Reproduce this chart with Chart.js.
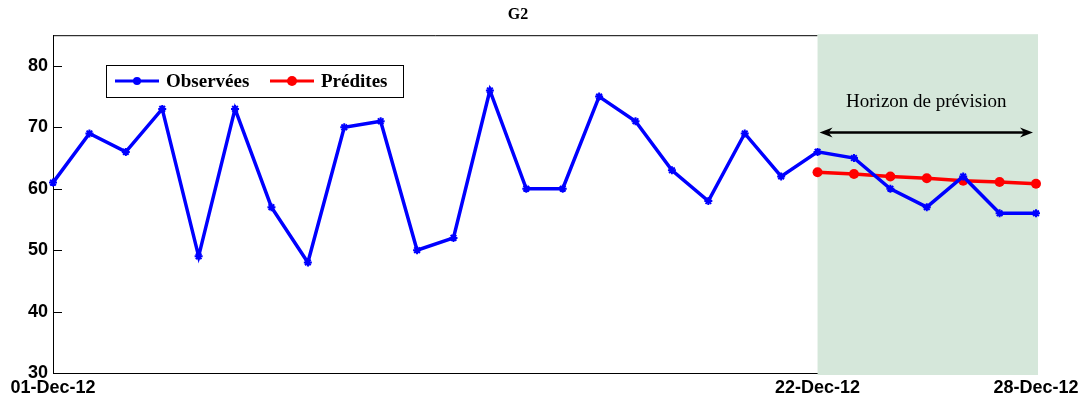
<!DOCTYPE html>
<html>
<head>
<meta charset="utf-8">
<script src="https://cdn.jsdelivr.net/npm/chart.js@4.4.1/dist/chart.umd.min.js"></script>
<style>
  html, body { margin: 0; padding: 0; background: #fff; }
  #wrap { width: 1086px; height: 400px; }
</style>
</head>
<body>
<div id="wrap"><canvas id="g2" width="1086" height="400"></canvas></div>
<script>
const jours = ['01-Dec-12','02-Dec-12','03-Dec-12','04-Dec-12','05-Dec-12','06-Dec-12','07-Dec-12',
  '08-Dec-12','09-Dec-12','10-Dec-12','11-Dec-12','12-Dec-12','13-Dec-12','14-Dec-12',
  '15-Dec-12','16-Dec-12','17-Dec-12','18-Dec-12','19-Dec-12','20-Dec-12','21-Dec-12',
  '22-Dec-12','23-Dec-12','24-Dec-12','25-Dec-12','26-Dec-12','27-Dec-12','28-Dec-12'];
const observees = [61, 69, 66, 73, 49, 73, 57, 48, 70, 71, 50, 52, 76, 60, 60, 75, 71, 63, 58, 69, 62,
  66, 65, 60, 57, 62, 56, 56];
const predites = [null, null, null, null, null, null, null, null, null, null, null, null, null, null,
  null, null, null, null, null, null, null,
  62.7, 62.4, 62.0, 61.7, 61.3, 61.1, 60.8];
const joursAffiches = ['01-Dec-12', '22-Dec-12', '28-Dec-12'];
const debutHorizon = '22-Dec-12';
const finHorizon = '28-Dec-12';

// fond vert, cadre, graduations internes, fleche et legende
const decor = {
  id: 'decor',
  beforeDatasetsDraw(chart) {
    const { ctx, chartArea: a, scales: { x, y } } = chart;
    const x0 = x.getPixelForValue(jours.indexOf(debutHorizon));
    ctx.save();
    // graduations vers l'interieur
    ctx.strokeStyle = '#000';
    ctx.lineWidth = 1;
    y.ticks.forEach(t => {
      if (t.value % 10) return;
      const py = Math.round(y.getPixelForValue(t.value)) + 0.5;
      ctx.beginPath(); ctx.moveTo(a.left, py); ctx.lineTo(a.left + 9, py); ctx.stroke();
    });
    // bord haut
    ctx.beginPath(); ctx.moveTo(a.left, a.top + 0.5); ctx.lineTo(x0, a.top + 0.5); ctx.stroke();
    // zone de prevision
    ctx.fillStyle = '#d5e7da';
    ctx.fillRect(x0, a.top - 1, a.right + 2 - x0, a.bottom - a.top + 3);
    ctx.restore();
  },
  afterDatasetsDraw(chart) {
    const { ctx, scales: { x, y } } = chart;
    const xa = x.getPixelForValue(jours.indexOf(debutHorizon)) + 2;
    const xb = x.getPixelForValue(jours.indexOf(finHorizon)) - 3;
    const ya = Math.round(y.getPixelForValue(69.3)) + 0.5;
    ctx.save();
    ctx.strokeStyle = '#000';
    ctx.fillStyle = '#000';
    ctx.lineWidth = 2.5;
    ctx.beginPath(); ctx.moveTo(xa + 6, ya); ctx.lineTo(xb - 6, ya); ctx.stroke();
    [[xa, 1], [xb, -1]].forEach(([px, d]) => {
      ctx.beginPath();
      ctx.moveTo(px, ya);
      ctx.lineTo(px + d * 13, ya - 5);
      ctx.lineTo(px + d * 9, ya);
      ctx.lineTo(px + d * 13, ya + 5);
      ctx.closePath();
      ctx.fill();
    });
    ctx.font = '19px "Liberation Serif", "Times New Roman", serif';
    ctx.textAlign = 'center';
    ctx.textBaseline = 'middle';
    ctx.fillText('Horizon de prévision', (xa + xb) / 2, y.getPixelForValue(74.1));

    // legende dans le cadre
    const lx = 106, ly = 65, lw = 297, lh = 32;
    ctx.fillStyle = '#fff';
    ctx.fillRect(lx, ly, lw, lh);
    ctx.lineWidth = 1;
    ctx.strokeRect(lx + 0.5, ly + 0.5, lw, lh);
    const cy = ly + 16;
    const items = [
      { ds: chart.data.datasets[0], x: 115, tx: 166 },
      { ds: chart.data.datasets[1], x: 270, tx: 321 }
    ];
    items.forEach(it => {
      ctx.strokeStyle = it.ds.borderColor;
      ctx.fillStyle = it.ds.borderColor;
      ctx.lineWidth = 3;
      ctx.beginPath(); ctx.moveTo(it.x, cy); ctx.lineTo(it.x + 44, cy); ctx.stroke();
      ctx.beginPath(); ctx.arc(it.x + 22, cy, it.ds.pointRadius, 0, Math.PI * 2); ctx.fill();
      ctx.fillStyle = '#000';
      ctx.font = 'bold 19px "Liberation Serif", "Times New Roman", serif';
      ctx.textAlign = 'left';
      ctx.fillText(it.ds.label, it.tx, cy + 1);
    });
    ctx.restore();
  }
};

new Chart(document.getElementById('g2'), {
  type: 'line',
  data: {
    labels: jours,
    datasets: [
      {
        label: 'Observées', data: observees,
        borderColor: '#0000ff', backgroundColor: '#0000ff',
        borderWidth: 3.5, pointStyle: 'star', pointRadius: 4, pointBorderWidth: 2,
        pointBorderColor: '#0000ff', tension: 0
      },
      {
        label: 'Prédites', data: predites,
        borderColor: '#ff0000', backgroundColor: '#ff0000',
        borderWidth: 3.5, pointRadius: 5, pointBorderWidth: 0, tension: 0
      }
    ]
  },
  options: {
    responsive: false,
    animation: false,
    layout: { padding: { left: 0, right: 50, bottom: 0 } },
    plugins: {
      legend: { display: false },
      tooltip: { enabled: false },
      title: {
        display: true, text: 'G2', color: '#000',
        font: { family: '"Liberation Serif", "Times New Roman", serif', size: 16, weight: 'bold', lineHeight: 1.2 },
        padding: { top: 5, bottom: 11 }
      }
    },
    scales: {
      x: {
        offset: false,
        grid: { display: false, drawTicks: false },
        border: { display: true, color: '#000', width: 1 },
        afterFit: s => { s.height = 27; },
        ticks: {
          autoSkip: false, maxRotation: 0, padding: 4, color: '#000',
          font: { family: 'Arial, "Liberation Sans", sans-serif', size: 18, weight: 'bold' },
          callback: function (v) {
            const l = this.getLabelForValue(v);
            return joursAffiches.includes(l) ? l : '';
          }
        }
      },
      y: {
        min: 30, max: 85,
        grid: { display: false, drawTicks: false },
        border: { display: true, color: '#000', width: 1 },
        afterFit: s => { s.width = 53; },
        ticks: {
          stepSize: 10, includeBounds: false, padding: 5, color: '#000',
          font: { family: 'Arial, "Liberation Sans", sans-serif', size: 18, weight: 'bold' },
          callback: v => (v % 10 ? '' : v)
        }
      }
    }
  },
  plugins: [decor]
});
</script>
</body>
</html>
